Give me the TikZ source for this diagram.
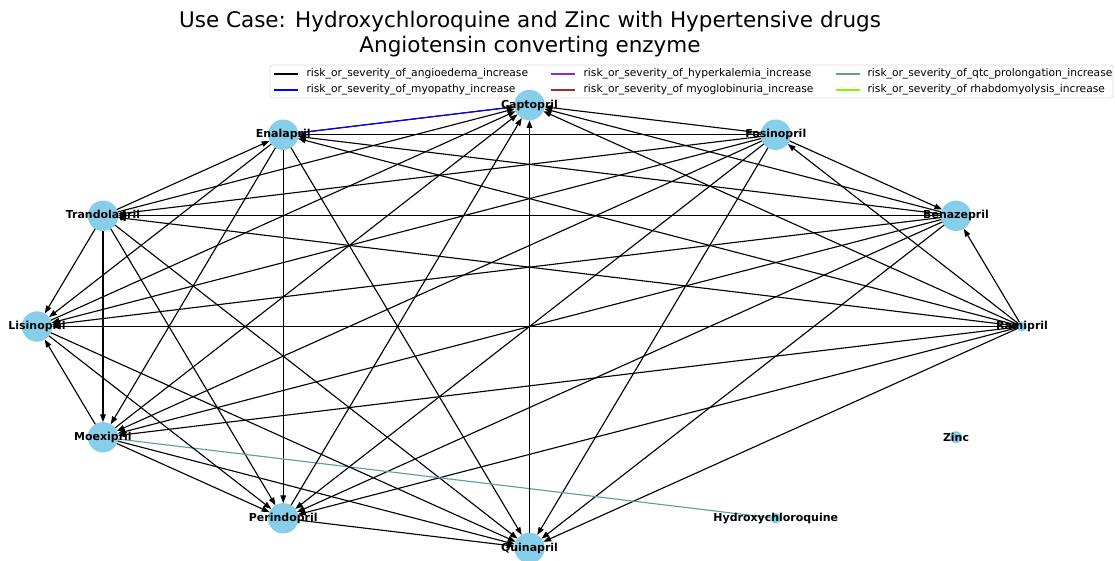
\documentclass[tikz,border=0pt]{standalone}
\usepackage{fontspec}
\setmainfont{DejaVu Sans}
\usetikzlibrary{arrows.meta}
\definecolor{nodeblue}{HTML}{87CEEB}
\definecolor{qtcteal}{HTML}{5F9EA0}
\definecolor{hyperpurple}{HTML}{8A2BE2}
\definecolor{myobrown}{HTML}{A52A2A}
\definecolor{rhabgreen}{HTML}{7CFC00}

\tikzset{every picture/.style={line width=0.8pt}}
\tikzset{
	drug/.style={circle,fill=nodeblue,inner sep=0pt,outer sep=0pt,minimum size=0.76cm},
	smalldrug/.style={circle,fill=nodeblue,inner sep=0pt,outer sep=0pt,minimum size=0.27cm},
	lbl/.style={font=\fontsize{7.8}{9}\selectfont\bfseries,inner sep=0pt},
	legtext/.style={font=\fontsize{7.6}{9}\selectfont,anchor=west,inner sep=0pt},
	edge/.style={->},
}

\begin{document}
\begin{tikzpicture}[x=0.025cm,y=-0.025cm,>={Stealth[length=5.5pt,width=4pt,inset=0pt]}]
	\useasboundingbox (0,0) rectangle (1115,560);
	%Tieu de
	\node[font=\fontsize{15.3}{17.5}\selectfont,align=center] (title) at (530,34)
		{Use Case: Hydroxychloroquine and Zinc with Hypertensive drugs\\Angiotensin converting enzyme};
	%Chu thich
	\draw[gray!25,line width=0.6pt,fill=white,rounded corners=2pt] (270,65) rectangle (1113,98);
	\draw[black] (274,74)--(298,74); \node[legtext] (leg1) at (306,74) {risk\_or\_severity\_of\_angioedema\_increase};
	\draw[blue] (274,90)--(298,90); \node[legtext] (leg2) at (306,90) {risk\_or\_severity\_of\_myopathy\_increase};
	\draw[hyperpurple] (551,74)--(575,74); \node[legtext] (leg3) at (583,74) {risk\_or\_severity\_of\_hyperkalemia\_increase};
	\draw[myobrown] (551,90)--(575,90); \node[legtext] (leg4) at (583,90) {risk\_or\_severity\_of myoglobinuria\_increase};
	\draw[qtcteal] (836,74)--(860,74); \node[legtext] (leg5) at (867,74) {risk\_or\_severity\_of\_qtc\_prolongation\_increase};
	\draw[rhabgreen] (836,90)--(860,90); \node[legtext] (leg6) at (867,90) {risk\_or\_severity\_of rhabdomyolysis\_increase};
	%Cac nut
	\node[smalldrug,minimum size=0.25cm] (ram) at (1022,326.5) {};
	\node[drug] (ben) at (956,215.75) {};
	\node[drug] (fos) at (775.75,134.7) {};
	\node[drug] (cap) at (529.5,105) {};
	\node[drug] (ena) at (283.25,134.7) {};
	\node[drug] (tra) at (103,215.75) {};
	\node[drug] (lis) at (37,326.5) {};
	\node[drug] (moe) at (103,437.25) {};
	\node[drug] (per) at (283.25,518.3) {};
	\node[drug] (qui) at (529.5,548) {};
	\node[smalldrug] (hcq) at (775.75,518.3) {};
	\node[smalldrug,minimum size=0.3cm] (zin) at (956,437.25) {};
	%Ramipril
	\draw[edge] (ram)--(fos); \draw[edge] (ram)--(ben); \draw[edge] (ram)--(tra);
	\draw[edge] (ram)--(ena); \draw[edge] (ram)--(moe); \draw[edge] (ram)--(lis);
	\draw[edge] (ram)--(per); \draw[edge] (ram)--(qui); \draw[edge] (ram)--(cap);
	%Fosinopril
	\draw[edge] (fos)--(ben); \draw[edge] (fos)--(tra); \draw[edge] (fos)--(ena);
	\draw[edge] (fos)--(moe); \draw[edge] (fos)--(lis); \draw[edge] (fos)--(per);
	\draw[edge] (fos)--(qui); \draw[edge] (fos)--(cap);
	%Benazepril
	\draw[edge] (ben)--(tra); \draw[edge] (ben)--(ena); \draw[edge] (ben)--(moe);
	\draw[edge] (ben)--(lis); \draw[edge] (ben)--(per); \draw[edge] (ben)--(qui);
	\draw[edge] (ben)--(cap);
	%Trandolapril
	\draw[edge] (tra)--(ena); \draw[edge] (tra)--(moe); \draw[edge] (tra)--(lis);
	\draw[edge] (tra)--(per); \draw[edge] (tra)--(qui); \draw[edge] (tra)--(cap);
	%Enalapril
	\draw[edge] (ena)--(moe); \draw[edge] (ena)--(lis); \draw[edge] (ena)--(per);
	\draw[edge] (ena)--(qui); \draw[edge] (ena)--(cap);
	\draw[blue,shorten >=5pt] (ena)--(cap);
	%Moexipril
	\draw[edge] (moe)--(lis); \draw[edge] (moe)--(per); \draw[edge] (moe)--(qui);
	\draw[edge] (moe)--(cap);
	\draw[qtcteal] (moe)--(hcq);
	%Lisinopril
	\draw[edge] (lis)--(per); \draw[edge] (lis)--(qui); \draw[edge] (lis)--(cap);
	%Perindopril, Quinapril
	\draw[edge] (per)--(qui); \draw[edge] (per)--(cap);
	\draw[edge] (qui)--(cap);
	%Nhan
	\node[lbl] (ram-l) at (ram) {Ramipril};
	\node[lbl] (ben-l) at (ben) {Benazepril};
	\node[lbl] (fos-l) at (fos) {Fosinopril};
	\node[lbl] (cap-l) at (cap) {Captopril};
	\node[lbl] (ena-l) at (ena) {Enalapril};
	\node[lbl] (tra-l) at (tra) {Trandolapril};
	\node[lbl] (lis-l) at (lis) {Lisinopril};
	\node[lbl] (moe-l) at (moe) {Moexipril};
	\node[lbl] (per-l) at (per) {Perindopril};
	\node[lbl] (qui-l) at (qui) {Quinapril};
	\node[lbl] (hcq-l) at (hcq) {Hydroxychloroquine};
	\node[lbl] (zin-l) at (zin) {Zinc};
\end{tikzpicture}
\end{document}
